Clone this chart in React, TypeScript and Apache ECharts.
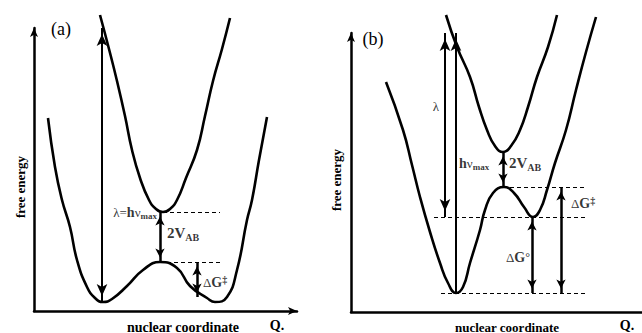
import React, { useEffect, useRef } from 'react';
import * as echarts from 'echarts';

const SERIF = 'Liberation Serif';

// ---------- Panel (a): symmetric case ----------
// [nuclear coordinate Q, free energy E]
const upperA: [number, number][] = [
  [66, 296], [75, 262], [83, 230], [91, 195], [98, 161], [106, 133], [115, 111], [122, 102],
  [129, 99], [136, 102], [143, 111], [152, 133], [163, 161], [171, 195], [179, 230], [188, 262], [196, 293],
];
const lowerA: [number, number][] = [
  [14, 193], [21, 144], [28, 111], [36, 84], [43, 51], [53, 24], [61, 13], [69, 9], [78, 12],
  [93, 25], [109, 41], [126, 49], [143, 43], [156, 25], [173, 13], [181, 9], [193, 14],
  [203, 41], [213, 91], [218, 111], [225, 151], [233, 194],
];
// arrows: [Q, E from, E to, head at from, head at to]
const arrowsA: [number, number, number, boolean, boolean][] = [
  [68, 9, 283, true, true],
  [126, 99, 49, true, true],
  [163, 49, 14, true, true],
];
// dashed levels: [E, Q from, Q to]
const levelsA: [number, number, number][] = [
  [99, 129, 186],
  [49, 126, 186],
];

// ---------- Panel (b): asymmetric case ----------
const upperB: [number, number][] = [
  [95, 297], [106, 265], [119, 235], [128, 205], [136, 182], [144, 166], [152, 160],
  [160, 166], [169, 182], [177, 205], [186, 235], [197, 265], [206, 297],
];
const lowerB: [number, number][] = [
  [35, 230], [52, 182], [61, 147], [69, 115], [79, 80], [89, 49], [97, 29], [105, 19],
  [112, 25], [119, 49], [129, 82], [134, 102], [142, 119], [153, 125], [163, 119], [173, 105],
  [182, 95], [189, 102], [196, 122], [204, 149], [215, 182], [225, 222], [235, 260], [245, 295],
];
const arrowsB: [number, number, number, boolean, boolean][] = [
  [94, 279, 95, true, true],
  [105, 19, 279, false, true],
  [152, 160, 125, true, true],
  [181, 95, 19, true, true],
  [210, 125, 19, true, true],
];
const levelsB: [number, number, number][] = [
  [125, 152, 235],
  [95, 83, 235],
  [19, 90, 235],
];

// label anchors: [Q, E, rich text, align]
const labelsA: [number, number, string, string][] = [
  [123, 99, '{r|λ=}{b|h}{r|ν}{s|max}', 'right'],
  [133, 78, '{big|2V}{bs|AB}', 'left'],
  [169, 29, '{r|Δ}{b|G}{sup|‡}', 'left'],
];
const labelsB: [number, number, string, string][] = [
  [85, 206, '{r|λ}', 'center'],
  [108, 149, '{b|h}{r|ν}{s|max}', 'left'],
  [158, 149, '{big|2V}{bs|AB}', 'left'],
  [220, 109, '{r|Δ}{b|G}{sup|‡}', 'left'],
  [155, 55, '{r|Δ}{b|G}{deg|°}', 'left'],
];

const tok = (o: any) => ({ fontFamily: SERIF, color: '#000', textBorderWidth: 0, textShadowBlur: 0, ...o });
const rich = {
  r: tok({ fontSize: 13, lineHeight: 16 }),
  b: tok({ fontSize: 14, fontWeight: 'bold', lineHeight: 16 }),
  s: tok({ fontSize: 9, fontWeight: 'bold', lineHeight: 9, verticalAlign: 'bottom' }),
  big: tok({ fontSize: 15, fontWeight: 'bold', lineHeight: 18 }),
  bs: tok({ fontSize: 10, fontWeight: 'bold', lineHeight: 10, verticalAlign: 'bottom' }),
  sup: tok({ fontSize: 10, fontWeight: 'bold', lineHeight: 9, verticalAlign: 'top' }),
  deg: tok({ fontSize: 12, fontWeight: 'bold', lineHeight: 16 }),
};

function arrowLines(arrows: [number, number, number, boolean, boolean][], big: boolean[]) {
  return arrows.map(([q, e1, e2, h1, h2], i) => {
    const size = big[i] ? [8, 12] : [7, 9];
    const width = big[i] ? 2 : 2.5;
    const head = (on: boolean) =>
      on ? { symbol: 'arrow', symbolSize: size, symbolOffset: [0, '50%'] } : { symbol: 'none' };
    return [
      { coord: [q, e1], ...head(h1), lineStyle: { type: 'solid', width, color: '#000' } },
      { coord: [q, e2], ...head(h2) },
    ];
  });
}
function dashLines(levels: [number, number, number][]) {
  return levels.map(([e, q1, q2]) => [
    { coord: [q1, e], symbol: 'none', lineStyle: { type: [4, 3], width: 1, color: '#000' } },
    { coord: [q2, e], symbol: 'none' },
  ]);
}

function curve(data: [number, number][], idx: number, marks: any[]) {
  return {
    type: 'line',
    xAxisIndex: idx,
    yAxisIndex: idx,
    data,
    smooth: 0.5,
    clip: false,
    symbol: 'none',
    silent: true,
    color: '#000',
    lineStyle: { color: '#000', width: 2.6 },
    markLine: marks.length
      ? { silent: true, animation: false, label: { show: false }, data: marks, itemStyle: { color: '#000' } }
      : undefined,
  };
}

function labels(items: [number, number, string, string][], idx: number) {
  return {
    type: 'scatter',
    xAxisIndex: idx,
    yAxisIndex: idx,
    symbolSize: 0,
    silent: true,
    color: '#000',
    itemStyle: { color: '#000' },
    data: items.map(([q, e, t, a]) => ({
      value: [q, e],
      label: {
        show: true,
        position: 'inside',
        align: a,
        verticalAlign: 'middle',
        color: '#000',
        textBorderWidth: 0,
        textBorderColor: 'transparent',
        formatter: t,
        rich,
      },
    })),
  };
}

function axisBase(max: number, arrow: boolean, sym: number[]) {
  return {
    type: 'value',
    min: 0,
    max,
    axisLine: {
      show: true,
      onZero: false,
      symbol: arrow ? ['none', 'arrow'] : ['none', 'none'],
      symbolSize: sym,
      lineStyle: { color: '#000', width: 2.5 },
    },
    axisTick: { show: false },
    axisLabel: { show: false },
    splitLine: { show: false },
  };
}

export default function App() {
  const ref = useRef<HTMLDivElement>(null);
  useEffect(() => {
    if (!ref.current) return;
    const chart = echarts.init(ref.current, undefined, { renderer: 'svg' });
    const txt = (text: string, x: number, y: number, size: number, bold: boolean, rot = 0) => ({
      type: 'text',
      x,
      y,
      rotation: rot,
      silent: true,
      style: {
        text,
        fontFamily: SERIF,
        fontSize: size,
        fontWeight: bold ? 'bold' : 'normal',
        fill: '#000',
        align: 'center',
        verticalAlign: 'middle',
      },
    });
    chart.setOption({
      animation: false,
      backgroundColor: '#fff',
      grid: [
        { left: 34, top: 28, width: 263, height: 283 },
        { left: 351, top: 33, width: 291, height: 279 },
      ],
      xAxis: [
        { ...axisBase(263, true, [6, 9]), gridIndex: 0 },
        { ...axisBase(291, false, [6, 9]), gridIndex: 1 },
      ],
      yAxis: [
        { ...axisBase(283, true, [6, 9]), gridIndex: 0 },
        { ...axisBase(279, true, [6, 9]), gridIndex: 1 },
      ],
      series: [
        curve(upperA, 0, []),
        curve(lowerA, 0, [...arrowLines(arrowsA, [true, false, false]), ...dashLines(levelsA)]),
        labels(labelsA, 0),
        curve(upperB, 1, []),
        curve(lowerB, 1, [...arrowLines(arrowsB, [true, true, false, false, false]), ...dashLines(levelsB)]),
        labels(labelsB, 1),
      ],
      graphic: [
        txt('(a)', 61, 29, 18, false),
        txt('(b)', 373, 39, 18, false),
        txt('free energy', 20, 187, 13, true, Math.PI / 2),
        txt('free energy', 336, 180, 13, true, Math.PI / 2),
        txt('nuclear coordinate', 183, 327, 14, true),
        txt('nuclear coordinate', 507, 327, 13, true),
        txt('Q.', 277, 325, 14, true),
        txt('Q.', 627, 325, 14, true),
      ],
    });
    return () => chart.dispose();
  }, []);
  return <div ref={ref} style={{ position: 'fixed', left: 0, top: 0, width: 642, height: 333 }} />;
}
